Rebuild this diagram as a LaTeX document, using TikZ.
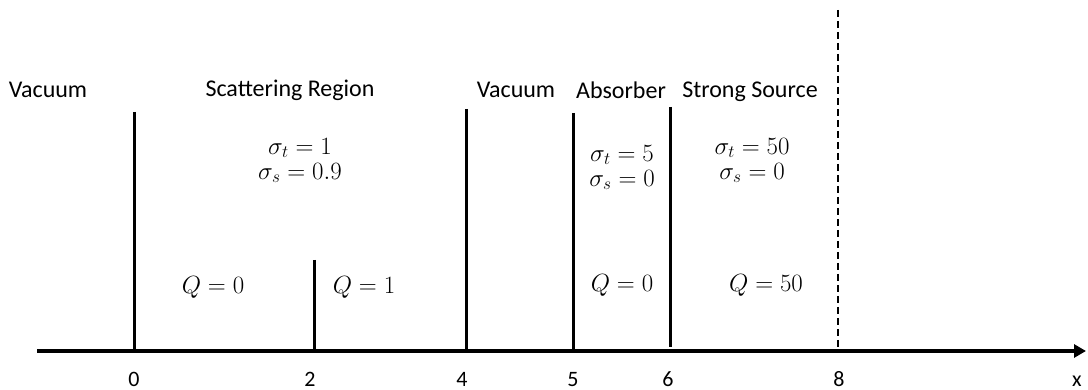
\documentclass[tikz,border=0pt]{standalone}
\usepackage{fontspec}
\setmainfont{Carlito}
\usetikzlibrary{arrows.meta}
\begin{document}
\begin{tikzpicture}[x=1pt,y=-1pt,
  lbl/.style={font=\fontsize{24}{28}\selectfont, inner sep=0pt},
  mth/.style={font=\fontsize{23}{26}\selectfont, inner sep=0pt},
  tick/.style={font=\fontsize{22}{26}\selectfont, inner sep=0pt, anchor=base},
  wall/.style={line width=3pt},
  axis/.style={line width=3.2pt, -{Triangle[length=12pt,width=13pt]}}]
\useasboundingbox (0,0) rectangle (1088,390);
% axis
\coordinate (a0) at (37,351);
\coordinate (a1) at (1086,351);
\draw[axis] (a0) -- (a1);
% walls
\coordinate (w0t) at (134,112); \coordinate (w0b) at (134,351);
\coordinate (w2t) at (314,260); \coordinate (w2b) at (314,351);
\coordinate (w4t) at (466,109); \coordinate (w4b) at (466,351);
\coordinate (w5t) at (573,113); \coordinate (w5b) at (573,351);
\coordinate (w6t) at (670,107); \coordinate (w6b) at (670,347);
\coordinate (w8t) at (838,10);  \coordinate (w8b) at (838,351);
\draw[wall] (w0t) -- (w0b);
\draw[wall] (w2t) -- (w2b);
\draw[wall] (w4t) -- (w4b);
\draw[wall] (w5t) -- (w5b);
\draw[wall] (w6t) -- (w6b);
\draw[line width=1.6pt, dash pattern=on 7pt off 4pt] (w8t) -- (w8b);
% region labels
\node[lbl] (vac1) at (48,90) {Vacuum};
\node[lbl] (scat) at (290,90) {Scattering Region};
\node[lbl] (vac2) at (516,90) {Vacuum};
\node[lbl] (abs) at (621,90) {Absorber};
\node[lbl] (src) at (750,92) {Strong Source};
% cross sections
\node[mth] (s1t) at (300,148) {$\sigma_t = 1$};
\node[mth] (s1s) at (300,173) {$\sigma_s = 0.9$};
\node[mth] (s2t) at (622,155) {$\sigma_t = 5$};
\node[mth] (s2s) at (622,180) {$\sigma_s = 0$};
\node[mth] (s3t) at (752,148) {$\sigma_t = 50$};
\node[mth] (s3s) at (752,173) {$\sigma_s = 0$};
% sources
\node[mth] (q1) at (213,287) {$Q = 0$};
\node[mth] (q2) at (364,287) {$Q = 1$};
\node[mth] (q3) at (622,285) {$Q = 0$};
\node[mth] (q4) at (766,285) {$Q = 50$};
% ticks
\node[tick] (t0) at (134,386) {0};
\node[tick] (t2) at (310,386) {2};
\node[tick] (t4) at (462,386) {4};
\node[tick] (t5) at (573,386) {5};
\node[tick] (t6) at (668,386) {6};
\node[tick] (t8) at (839,386) {8};
\node[tick] (tx) at (1077,386) {x};
\end{tikzpicture}
\end{document}
